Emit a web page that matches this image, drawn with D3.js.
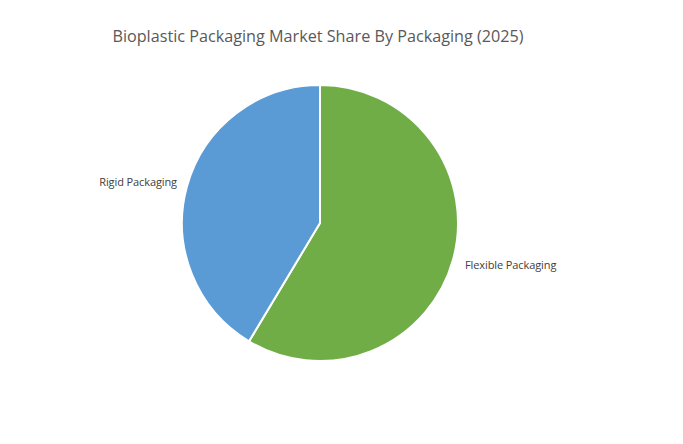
<!DOCTYPE html>
<html><head><meta charset="utf-8">
<script src="https://cdn.jsdelivr.net/npm/d3@7"></script>
<style>body{margin:0;background:#fff}</style>
</head><body>
<svg id="c" width="683" height="444"></svg>
<script>
const categories = ["Flexible Packaging", "Rigid Packaging"];
const values = [58.6, 41.4];
const colors = ["#70AD47", "#5B9BD5"];
const title = "Bioplastic Packaging Market Share By Packaging (2025)";

const svg = d3.select("#c");
const cx = 320, cy = 223, r = 138;
svg.append("text").attr("x", 318).attr("y", 42).attr("text-anchor", "middle")
  .attr("font-family", "Open Sans").attr("font-size", 16.2).attr("fill", "#595959").text(title);

const pie = d3.pie().sort(null).value(d => d)(values);
const arc = d3.arc().innerRadius(0).outerRadius(r);
const g = svg.append("g").attr("transform", `translate(${cx},${cy})`);
g.selectAll("path").data(pie).join("path")
  .attr("d", arc).attr("fill", (d, i) => colors[i])
  .attr("stroke", "#fff").attr("stroke-width", 2);

const labelPos = [[465, 269, "start"], [177, 186, "end"]];
svg.selectAll("text.lbl").data(categories).join("text").attr("class", "lbl")
  .attr("x", (d, i) => labelPos[i][0]).attr("y", (d, i) => labelPos[i][1])
  .attr("text-anchor", (d, i) => labelPos[i][2])
  .attr("font-family", "Open Sans").attr("font-size", 11).attr("fill", "#404040")
  .attr("letter-spacing", -0.1)
  .text(d => d);
</script>
</body></html>
